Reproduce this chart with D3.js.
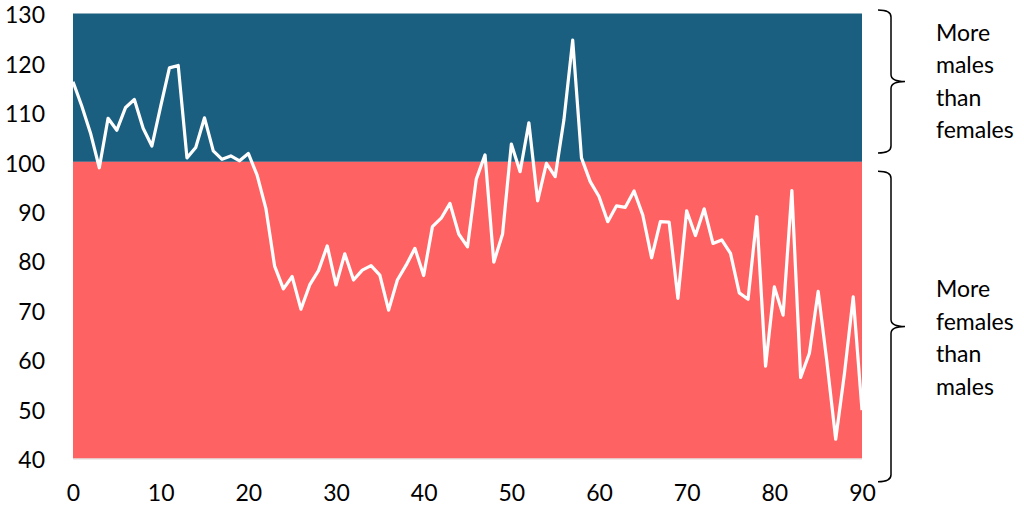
<!DOCTYPE html>
<html>
<head>
<meta charset="utf-8">
<script src="https://cdn.jsdelivr.net/npm/d3@7"></script>
<style>
  html, body { margin: 0; padding: 0; background: #fff; }
  svg { display: block; }
  text { font-family: "Lato", "Open Sans", sans-serif; fill: #000; }
</style>
</head>
<body>
<svg id="chart" width="1024" height="508"></svg>
<script>
// ---- data ----
const ages = d3.range(0, 91);
const sexRatio = [
  116.2, 111.3, 105.8, 98.8, 108.8, 106.4, 111.0, 112.6, 106.8, 103.2,
  111.2, 119.0, 119.5, 100.8, 102.9, 108.9, 102.2, 100.5, 101.2, 100.2,
  101.7, 97.3, 90.6, 78.9, 74.3, 76.8, 70.2, 75.1, 78.0, 83.0,
  75.1, 81.4, 76.1, 78.1, 79.0, 77.1, 70.0, 76.1, 79.1, 82.5,
  77.0, 86.9, 88.6, 91.6, 85.4, 82.8, 96.5, 101.4, 79.7, 85.4,
  103.6, 98.0, 107.9, 92.1, 99.7, 97.0, 108.5, 124.6, 100.8, 96.0,
  93.0, 87.9, 91.1, 90.8, 94.1, 89.2, 80.6, 87.9, 87.8, 72.4,
  90.1, 85.1, 90.5, 83.5, 84.2, 81.5, 73.5, 72.2, 88.9, 58.7,
  74.7, 69.0, 94.2, 56.4, 61.3, 73.8, 59.5, 43.9, 57.2, 72.7,
  49.8
];
const xTicks = [0, 10, 20, 30, 40, 50, 60, 70, 80, 90];
const yTicks = [40, 50, 60, 70, 80, 90, 100, 110, 120, 130];
const bandNames = ["male", "female"];
const bandFrom = [100, 40];
const bandTo = [130, 100];
const bandColors = ["#1A5F80", "#FF6262"];
const braceFrom = [130.7, 98.1];
const braceTo = [101.8, 35.3];
const braceLabels = [["More", "males", "than", "females"], ["More", "females", "than", "males"]];
const labelCenter = [116.4, 64.6];

// ---- layout ----
const svg = d3.select("#chart");
const margin = { left: 73, right: 162, top: 13.5, bottom: 49.5 };
const W = 1024, H = 508;
const x = d3.scaleLinear().domain([0, 90]).range([margin.left, W - margin.right]);
const y = d3.scaleLinear().domain([40, 130]).range([H - margin.bottom, margin.top]);

// bands
svg.append("g").selectAll("rect").data(bandNames).join("rect")
  .attr("x", x(0))
  .attr("width", x(90) - x(0))
  .attr("y", (d, i) => y(bandTo[i]))
  .attr("height", (d, i) => y(bandFrom[i]) - y(bandTo[i]))
  .attr("fill", (d, i) => bandColors[i]);

// light axis line at bottom
svg.append("line")
  .attr("x1", x(0)).attr("x2", x(90))
  .attr("y1", y(40) + 0.5).attr("y2", y(40) + 0.5)
  .attr("stroke", "#D9D9D9").attr("stroke-width", 1);

// axes
const yAxis = d3.axisLeft(y).tickValues(yTicks).tickSize(0).tickPadding(28);
const gy = svg.append("g").attr("transform", `translate(${x(0)},0)`).call(yAxis);
gy.select(".domain").remove();
gy.selectAll("text").attr("font-size", 23).attr("font-family", "Lato, 'Open Sans', sans-serif")
  .attr("fill", "#000").attr("dy", "0.4em");

const xAxis = d3.axisBottom(x).tickValues(xTicks).tickSize(0).tickPadding(26);
const gx = svg.append("g").attr("transform", `translate(0,${y(40)})`).call(xAxis);
gx.select(".domain").remove();
gx.selectAll("text").attr("font-size", 23).attr("font-family", "Lato, 'Open Sans', sans-serif").attr("fill", "#000");

// line
const line = d3.line().x((d, i) => x(ages[i])).y(d => y(d));
svg.append("path")
  .datum(sexRatio)
  .attr("d", line)
  .attr("fill", "none")
  .attr("stroke", "#FFFFFF")
  .attr("stroke-width", 3.2)
  .attr("stroke-linejoin", "round");

// braces
const bx = 891, tipX = 878, pointX = 905, r = 7;
braceFrom.forEach((v0, i) => {
  const y0 = y(v0), y1 = y(braceTo[i]), ym = (y0 + y1) / 2;
  const p = d3.path();
  p.moveTo(tipX, y0);
  p.quadraticCurveTo(bx, y0, bx, y0 + r);
  p.lineTo(bx, ym - r);
  p.quadraticCurveTo(bx, ym, pointX, ym);
  p.quadraticCurveTo(bx, ym, bx, ym + r);
  p.lineTo(bx, y1 - r);
  p.quadraticCurveTo(bx, y1, tipX, y1);
  svg.append("path").attr("d", p.toString())
    .attr("fill", "none").attr("stroke", "#000").attr("stroke-width", 1.5);

  const lh = 32.5;
  const startY = y(labelCenter[i]) - lh * 1.5;
  const t = svg.append("text").attr("font-size", 23);
  braceLabels[i].forEach((s, j) => {
    t.append("tspan").attr("x", 936).attr("y", startY + j * lh)
      .attr("dominant-baseline", "central").text(s);
  });
});
</script>
</body>
</html>
